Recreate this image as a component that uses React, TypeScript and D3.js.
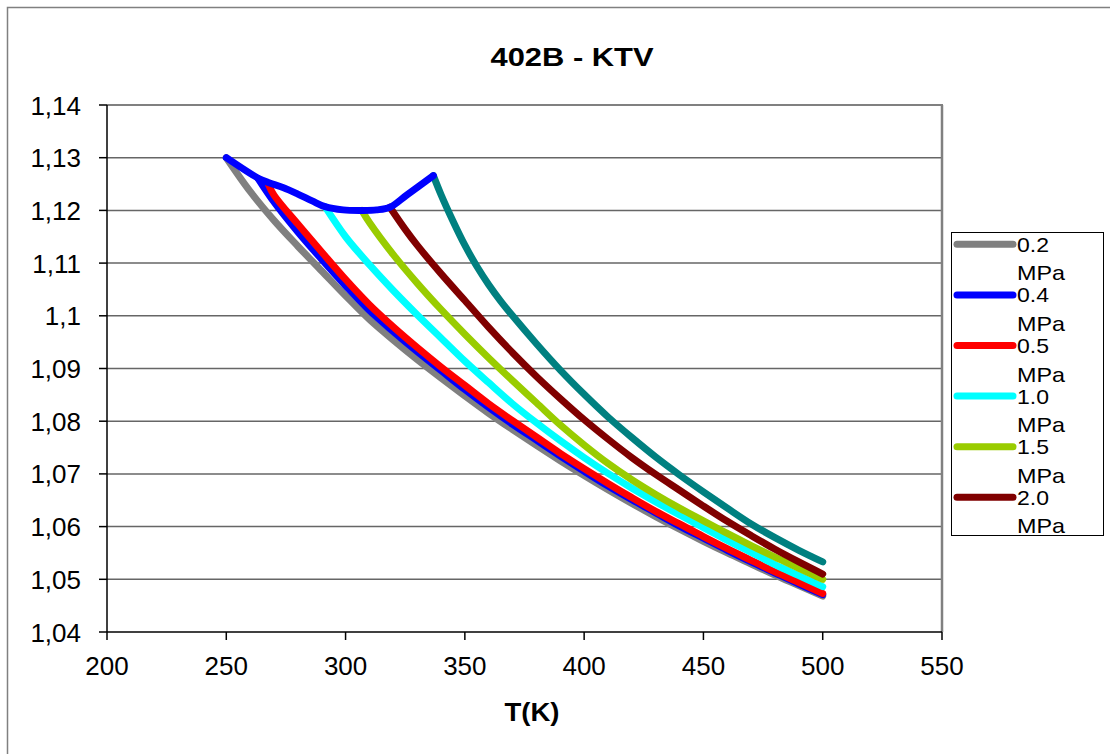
import React from 'react';
import * as d3 from 'd3';

// ---- data ----
const yTicks = [1.04, 1.05, 1.06, 1.07, 1.08, 1.09, 1.1, 1.11, 1.12, 1.13, 1.14];
const xTicks = [200, 250, 300, 350, 400, 450, 500, 550];

const T_02 = [250, 260, 270, 280, 290, 300, 310, 320, 330, 340, 350, 360, 370, 380, 390, 400, 410, 420, 430, 440, 450, 460, 470, 480, 490, 500];
const K_02 = [1.1300, 1.1236, 1.1181, 1.1132, 1.1085, 1.1038, 1.0993, 1.0954, 1.0917, 1.0882, 1.0848, 1.0815, 1.0784, 1.0754, 1.0725, 1.0697, 1.0670, 1.0644, 1.0619, 1.0595, 1.0572, 1.0550, 1.0529, 1.0508, 1.0488, 1.0468];

const T_04 = [263.4, 270, 280, 290, 300, 310, 320, 330, 340, 350, 360, 370, 380, 390, 400, 410, 420, 430, 440, 450, 460, 470, 480, 490, 500];
const K_04 = [1.1260, 1.1216, 1.1159, 1.1107, 1.1057, 1.1010, 1.0970, 1.0932, 1.0896, 1.0860, 1.0826, 1.0794, 1.0764, 1.0734, 1.0705, 1.0677, 1.0651, 1.0626, 1.0601, 1.0578, 1.0555, 1.0533, 1.0512, 1.0491, 1.0471];

const T_05 = [267.6, 270, 280, 290, 300, 310, 320, 330, 340, 350, 360, 370, 380, 390, 400, 410, 420, 430, 440, 450, 460, 470, 480, 490, 500];
const K_05 = [1.1250, 1.1229, 1.1174, 1.1121, 1.1069, 1.1021, 1.0979, 1.0940, 1.0903, 1.0868, 1.0833, 1.0801, 1.0770, 1.0739, 1.0710, 1.0682, 1.0655, 1.0629, 1.0605, 1.0581, 1.0558, 1.0536, 1.0514, 1.0494, 1.0473];

const T_10 = [291.4, 300, 310, 320, 330, 340, 350, 360, 370, 380, 390, 400, 410, 420, 430, 440, 450, 460, 470, 480, 490, 500];
const K_10 = [1.1207, 1.1150, 1.1097, 1.1048, 1.1002, 1.0958, 1.0914, 1.0873, 1.0833, 1.0797, 1.0763, 1.0731, 1.0701, 1.0673, 1.0647, 1.0622, 1.0598, 1.0574, 1.0551, 1.0528, 1.0507, 1.0486];

const T_15 = [306.8, 310, 320, 330, 340, 350, 360, 370, 380, 390, 400, 410, 420, 430, 440, 450, 460, 470, 480, 490, 500];
const K_15 = [1.1200, 1.1177, 1.1116, 1.1062, 1.1012, 1.0965, 1.0920, 1.0877, 1.0835, 1.0793, 1.0755, 1.0720, 1.0689, 1.0661, 1.0635, 1.0611, 1.0587, 1.0564, 1.0542, 1.0521, 1.0500];

const T_20 = [318.6, 325, 330, 340, 350, 360, 370, 380, 390, 400, 410, 420, 430, 440, 450, 460, 470, 480, 490, 500];
const K_20 = [1.1206, 1.1164, 1.1134, 1.1080, 1.1029, 1.0978, 1.0930, 1.0885, 1.0843, 1.0803, 1.0766, 1.0731, 1.0699, 1.0669, 1.0639, 1.0610, 1.0583, 1.0557, 1.0533, 1.0510];

const T_25 = [336.8, 340, 345, 350, 355, 360, 365, 370, 380, 390, 400, 410, 420, 430, 440, 450, 460, 470, 480, 490, 500];
const K_25 = [1.1266, 1.1230, 1.1180, 1.1134, 1.1094, 1.1059, 1.1028, 1.1000, 1.0947, 1.0897, 1.0851, 1.0808, 1.0769, 1.0732, 1.0698, 1.0666, 1.0635, 1.0605, 1.0579, 1.0555, 1.0533];

const T_SAT = [250, 263.4, 267.6, 274, 280, 286, 291.4, 299, 306.8, 313, 318.6, 325.6, 336.8];
const K_SAT = [1.1300, 1.1261, 1.1253, 1.1243, 1.1231, 1.1218, 1.1207, 1.1201, 1.1200, 1.1201, 1.1206, 1.1229, 1.1266];

const legendNames = ['0.2', '0.4', '0.5', '1.0', '1.5', '2.0'];

const series = [
  { t: T_02, k: K_02, color: '#808080' },
  { t: T_04, k: K_04, color: '#0000FF' },
  { t: T_05, k: K_05, color: '#FF0000' },
  { t: T_10, k: K_10, color: '#00FFFF' },
  { t: T_15, k: K_15, color: '#99CC00' },
  { t: T_20, k: K_20, color: '#800000' },
  { t: T_25, k: K_25, color: '#008080' },
  { t: T_SAT, k: K_SAT, color: '#0000FF' },
];

const FONT = 'Liberation Sans, Arial, sans-serif';

export default function App() {
  const x = d3.scaleLinear().domain([200, 550]).range([107, 942]);
  const y = d3.scaleLinear().domain([1.04, 1.14]).range([632, 105]);
  const line = d3
    .line<[number, number]>()
    .x((d) => x(d[0]))
    .y((d) => y(d[1]))
    .curve(d3.curveCatmullRom.alpha(0.5));

  const fmt = (v: number) => String(+v.toFixed(2)).replace('.', ',');

  return (
    <svg
      width={1110}
      height={754}
      style={{ position: 'absolute', left: 0, top: 0, display: 'block', background: '#fff' }}
      fontFamily={FONT}
    >
      <rect x={7.5} y={7.5} width={1300} height={1300} fill="#fff" stroke="#808080" strokeWidth={1.5} />
      {/* gridlines */}
      {yTicks.slice(1, -1).map((v) => (
        <line key={'g' + v} x1={x(200)} x2={x(550)} y1={y(v)} y2={y(v)} stroke="#666" strokeWidth={1.5} />
      ))}
      {/* plot border top/right */}
      <line x1={x(200)} x2={x(550) + 1} y1={y(1.14)} y2={y(1.14)} stroke="#808080" strokeWidth={2} />
      <line x1={x(550)} x2={x(550)} y1={y(1.14)} y2={y(1.04)} stroke="#808080" strokeWidth={2.5} />
      {/* axes */}
      <line x1={x(200)} x2={x(200)} y1={y(1.14)} y2={y(1.04)} stroke="#000" strokeWidth={1.5} />
      <line x1={x(200)} x2={x(550)} y1={y(1.04)} y2={y(1.04)} stroke="#000" strokeWidth={1.5} />
      {yTicks.map((v) => (
        <g key={'y' + v}>
          <line x1={x(200) - 8} x2={x(200)} y1={y(v)} y2={y(v)} stroke="#000" strokeWidth={1.5} />
          <text x={81} y={y(v) + 9.5} textAnchor="end" fontSize={26}>
            {fmt(v)}
          </text>
        </g>
      ))}
      {xTicks.map((v) => (
        <g key={'x' + v}>
          <line x1={x(v)} x2={x(v)} y1={y(1.04)} y2={y(1.04) + 8} stroke="#000" strokeWidth={1.5} />
          <text x={x(v)} y={674.5} textAnchor="middle" fontSize={26}>
            {v}
          </text>
        </g>
      ))}
      {/* series */}
      {series.map((s, i) => (
        <path
          key={'s' + i}
          d={line(s.t.map((t, j) => [t, s.k[j]] as [number, number])) || ''}
          fill="none"
          stroke={s.color}
          strokeWidth={7}
          strokeLinecap="round"
          strokeLinejoin="round"
        />
      ))}
      {/* title */}
      <text x={572} y={66} textAnchor="middle" fontSize={25} fontWeight="bold" textLength={163} lengthAdjust="spacingAndGlyphs">
        402B - KTV
      </text>
      <text x={532} y={721} textAnchor="middle" fontSize={25} fontWeight="bold" textLength={55} lengthAdjust="spacingAndGlyphs">
        T(K)
      </text>
      {/* legend */}
      <rect x={951.5} y={232.5} width={152} height={303} fill="#fff" stroke="#000" strokeWidth={1} />
      {legendNames.map((n, i) => {
        const cy = 244.3 + i * 50.6;
        return (
          <g key={'l' + n}>
            <line x1={957} x2={1013} y1={cy} y2={cy} stroke={series[i].color} strokeWidth={7} strokeLinecap="round" />
            <text x={1017} y={cy + 7.5} fontSize={21} textLength={32} lengthAdjust="spacingAndGlyphs">
              {n}
            </text>
            <text x={1017} y={cy + 36} fontSize={21} textLength={48} lengthAdjust="spacingAndGlyphs">
              MPa
            </text>
          </g>
        );
      })}
    </svg>
  );
}
